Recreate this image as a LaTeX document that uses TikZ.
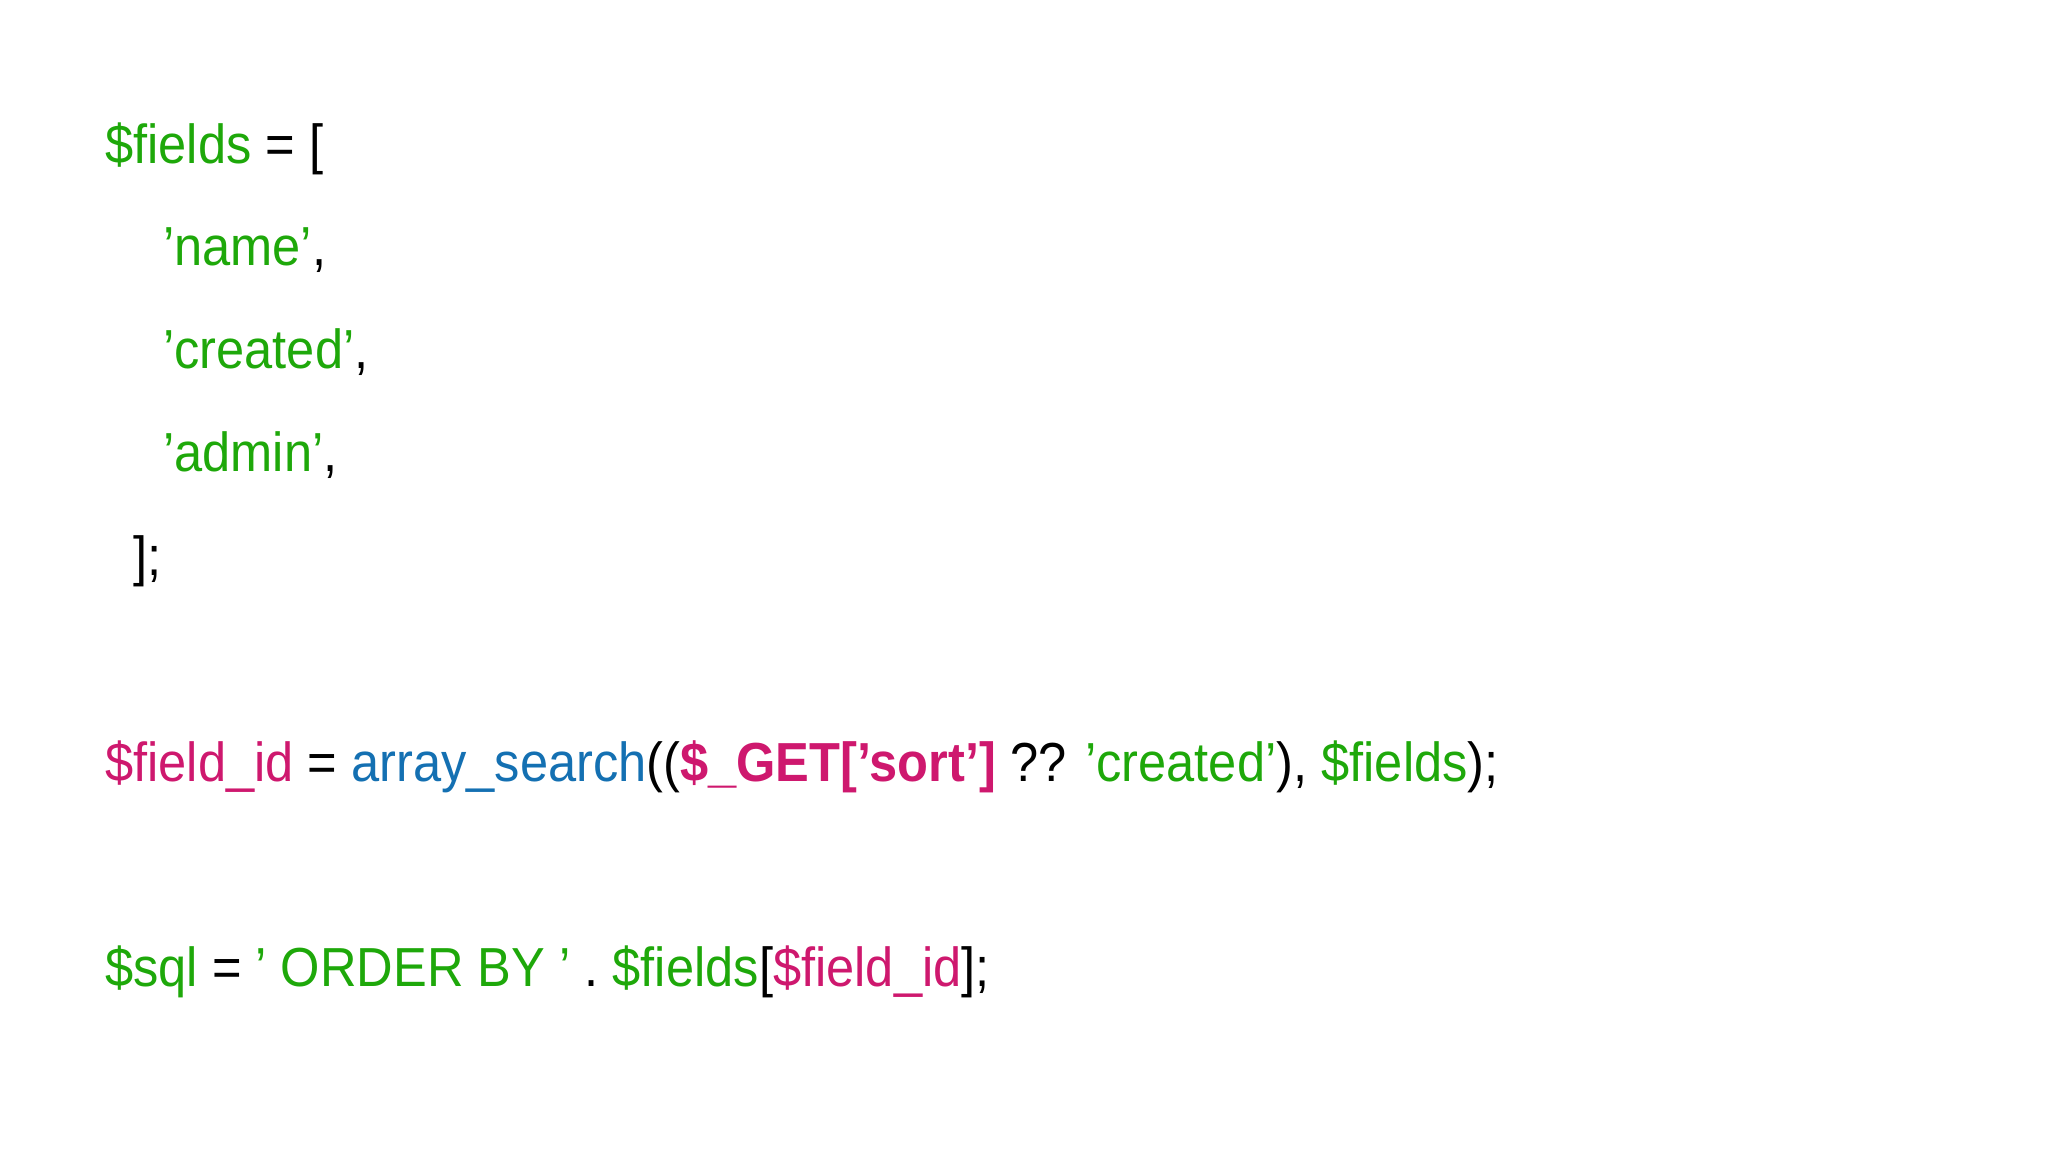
\documentclass[tikz,border=0pt]{standalone}
\usepackage{fontspec}
\setmainfont{Liberation Sans}[FakeStretch=0.92]
\definecolor{cg}{RGB}{30,168,10}
\definecolor{cm}{RGB}{206,24,110}
\definecolor{cb}{RGB}{20,112,178}
\newcommand{\q}{\char"27\relax}
\begin{document}
\begin{tikzpicture}[x=1pt,y=1pt,code/.style={anchor=base west,inner sep=0pt,font=\fontsize{55}{60}\selectfont}]
\useasboundingbox (0,0) rectangle (2048,-1152);
\node[code] (l1) at (105,-163) {\textcolor{cg}{\$fields} = [};
\node[code] (l2) at (163,-265) {\textcolor{cg}{\q name\q},};
\node[code] (l3) at (163,-368) {\textcolor{cg}{\q created\q},};
\node[code] (l4) at (163,-471) {\textcolor{cg}{\q admin\q},};
\node[code] (l5) at (133,-575) {];};
\node[code] (l6) at (105,-781) {\textcolor{cm}{\$field\_id} = \textcolor{cb}{array\_search}((\textcolor{cm}{\bfseries \$\_GET[\q sort\q]}\ ?? \textcolor{cg}{\q created\q}), \textcolor{cg}{\$fields});};
\node[code] (l7) at (105,-986) {\textcolor{cg}{\$sql} = \textcolor{cg}{\q\ ORDER BY \q} . \textcolor{cg}{\$fields}[\textcolor{cm}{\$field\_id}];};
\end{tikzpicture}
\end{document}
